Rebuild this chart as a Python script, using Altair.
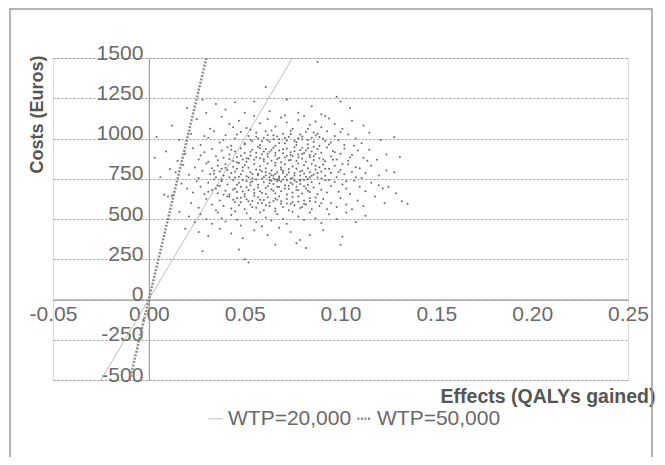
import altair as alt
import pandas as pd

# ---- data (estimated) ----
cloud = [
    # cost 1150+
    (0.088, 1475), (0.061, 1320), (0.028, 1240), (0.035, 1215), (0.045, 1225), (0.055, 1230),
    (0.072, 1240), (0.085, 1200), (0.098, 1260), (0.100, 1230), (0.105, 1190), (0.040, 1180),
    (0.020, 1190), (0.063, 1170), (0.078, 1160), (0.090, 1150), (0.050, 1160), (0.030, 1160),
    # 1050-1150
    (0.012, 1080), (0.025, 1120), (0.032, 1060), (0.038, 1135), (0.042, 1090), (0.047, 1110),
    (0.051, 1065), (0.055, 1140), (0.058, 1095), (0.062, 1120), (0.066, 1075), (0.069, 1130),
    (0.072, 1100), (0.075, 1060), (0.078, 1115), (0.081, 1140), (0.084, 1085), (0.087, 1105),
    (0.090, 1070), (0.094, 1125), (0.097, 1090), (0.101, 1060), (0.106, 1110), (0.112, 1080),
    (0.064, 1050), (0.053, 1055), (0.071, 1145), (0.083, 1060), (0.044, 1070), (0.092, 1140),
    # 950-1050
    (0.004, 1010), (0.016, 990), (0.022, 1030), (0.027, 960), (0.031, 1005), (0.034, 1045),
    (0.037, 975), (0.040, 1020), (0.043, 955), (0.045, 1000), (0.048, 1040), (0.050, 970),
    (0.052, 1015), (0.054, 985), (0.056, 1035), (0.058, 960), (0.060, 1005), (0.061, 1045),
    (0.063, 980), (0.065, 1020), (0.066, 955), (0.068, 995), (0.070, 1030), (0.071, 970),
    (0.073, 1010), (0.074, 1048), (0.076, 985), (0.077, 960), (0.079, 1025), (0.080, 995),
    (0.082, 1040), (0.083, 965), (0.085, 1005), (0.086, 980), (0.088, 1030), (0.089, 955),
    (0.091, 1000), (0.093, 1045), (0.095, 975), (0.097, 1015), (0.099, 990), (0.102, 960),
    (0.104, 1025), (0.108, 1000), (0.111, 970), (0.115, 1035), (0.121, 990), (0.128, 1010),
    (0.057, 1000), (0.062, 990), (0.067, 1012), (0.072, 988), (0.078, 1002), (0.046, 1025),
    (0.039, 990), (0.029, 1015), (0.087, 1018), (0.094, 962), (0.100, 1040), (0.107, 955),
    # 850-950
    (0.003, 880), (0.009, 920), (0.015, 860), (0.019, 905), (0.023, 940), (0.026, 870),
    (0.029, 915), (0.031, 855), (0.033, 935), (0.035, 890), (0.036, 865), (0.038, 925),
    (0.039, 880), (0.041, 945), (0.042, 900), (0.044, 860), (0.045, 920), (0.046, 885),
    (0.048, 940), (0.049, 870), (0.050, 910), (0.051, 855), (0.053, 895), (0.054, 930),
    (0.055, 868), (0.056, 912), (0.057, 948), (0.058, 878), (0.059, 902), (0.060, 858),
    (0.061, 935), (0.062, 888), (0.063, 918), (0.064, 862), (0.065, 942), (0.066, 895),
    (0.067, 872), (0.068, 925), (0.069, 852), (0.070, 908), (0.071, 882), (0.072, 938),
    (0.073, 865), (0.074, 915), (0.075, 890), (0.076, 946), (0.077, 860), (0.078, 900),
    (0.079, 928), (0.080, 875), (0.081, 910), (0.082, 856), (0.083, 940), (0.084, 885),
    (0.085, 920), (0.086, 866), (0.087, 903), (0.088, 935), (0.089, 878), (0.090, 912),
    (0.092, 858), (0.093, 944), (0.095, 890), (0.096, 922), (0.098, 870), (0.100, 905),
    (0.102, 938), (0.104, 862), (0.106, 898), (0.109, 925), (0.112, 880), (0.115, 930),
    (0.119, 868), (0.124, 900), (0.131, 885), (0.027, 895), (0.043, 930), (0.052, 875),
    (0.060, 920), (0.066, 850), (0.074, 898), (0.080, 942), (0.086, 890), (0.091, 870),
    (0.097, 915),
    # 750-850
    (0.006, 760), (0.011, 810), (0.014, 790), (0.018, 835), (0.021, 775), (0.024, 820),
    (0.026, 755), (0.028, 800), (0.030, 845), (0.032, 780), (0.033, 815), (0.035, 760),
    (0.036, 830), (0.037, 795), (0.039, 770), (0.040, 840), (0.041, 805), (0.043, 785),
    (0.044, 825), (0.045, 758), (0.046, 812), (0.047, 848), (0.048, 778), (0.049, 800),
    (0.050, 835), (0.051, 765), (0.052, 818), (0.053, 790), (0.054, 752), (0.055, 842),
    (0.056, 808), (0.057, 772), (0.058, 828), (0.059, 795), (0.060, 760), (0.061, 815),
    (0.062, 845), (0.063, 782), (0.064, 802), (0.065, 768), (0.066, 832), (0.067, 790),
    (0.068, 755), (0.069, 820), (0.070, 798), (0.071, 840), (0.072, 775), (0.073, 810),
    (0.074, 752), (0.075, 826), (0.076, 786), (0.077, 812), (0.078, 845), (0.079, 770),
    (0.080, 800), (0.081, 835), (0.082, 762), (0.083, 815), (0.084, 790), (0.085, 842),
    (0.086, 776), (0.087, 808), (0.088, 758), (0.089, 822), (0.090, 795), (0.091, 838),
    (0.092, 768), (0.094, 812), (0.095, 785), (0.097, 830), (0.098, 760), (0.100, 805),
    (0.102, 778), (0.104, 840), (0.106, 792), (0.108, 760), (0.110, 815), (0.113, 785),
    (0.116, 830), (0.120, 770), (0.124, 802), (0.128, 790), (0.063, 760), (0.065, 752),
    (0.067, 745), (0.061, 770), (0.058, 805), (0.054, 780), (0.049, 822), (0.045, 795),
    (0.071, 762), (0.073, 790), (0.076, 770), (0.069, 808), (0.084, 760), (0.087, 830),
    (0.079, 795), (0.042, 760), (0.038, 812), (0.034, 800),
    # 650-750
    (0.008, 650), (0.012, 645), (0.017, 720), (0.020, 690), (0.023, 665), (0.025, 735),
    (0.027, 700), (0.029, 655), (0.031, 725), (0.033, 680), (0.034, 745), (0.036, 660),
    (0.037, 705), (0.038, 735), (0.040, 675), (0.041, 715), (0.042, 652), (0.044, 740),
    (0.045, 690), (0.046, 668), (0.047, 725), (0.048, 700), (0.050, 655), (0.051, 735),
    (0.052, 680), (0.053, 710), (0.055, 662), (0.056, 745), (0.057, 695), (0.058, 672),
    (0.060, 728), (0.061, 655), (0.062, 705), (0.063, 740), (0.064, 685), (0.065, 718),
    (0.066, 660), (0.067, 735), (0.068, 698), (0.069, 672), (0.070, 745), (0.071, 710),
    (0.072, 652), (0.073, 688), (0.074, 725), (0.075, 665), (0.076, 740), (0.077, 700),
    (0.078, 678), (0.079, 718), (0.080, 658), (0.081, 742), (0.082, 690), (0.083, 712),
    (0.084, 668), (0.085, 730), (0.086, 695), (0.088, 655), (0.089, 720), (0.090, 682),
    (0.092, 740), (0.093, 665), (0.095, 705), (0.097, 730), (0.099, 670), (0.101, 715),
    (0.103, 690), (0.105, 655), (0.107, 738), (0.110, 700), (0.113, 672), (0.116, 725),
    (0.120, 710), (0.122, 690), (0.125, 700), (0.129, 660), (0.042, 640), (0.046, 630),
    (0.050, 640), (0.066, 745), (0.068, 740), (0.064, 738), (0.031, 670), (0.035, 690),
    (0.039, 650),
    # 550-650
    (0.010, 640), (0.022, 600), (0.026, 570), (0.030, 625), (0.033, 590), (0.035, 555),
    (0.037, 615), (0.039, 580), (0.041, 640), (0.043, 565), (0.045, 605), (0.047, 585),
    (0.048, 632), (0.050, 560), (0.052, 610), (0.053, 590), (0.055, 645), (0.056, 570),
    (0.058, 620), (0.059, 598), (0.060, 555), (0.062, 635), (0.063, 580), (0.065, 612),
    (0.066, 565), (0.068, 640), (0.069, 595), (0.070, 575), (0.072, 625), (0.073, 555),
    (0.075, 605), (0.076, 585), (0.078, 640), (0.079, 568), (0.081, 615), (0.082, 590),
    (0.084, 630), (0.085, 560), (0.087, 605), (0.089, 580), (0.091, 625), (0.093, 560),
    (0.095, 600), (0.098, 575), (0.100, 630), (0.103, 590), (0.106, 560), (0.109, 615),
    (0.112, 580), (0.118, 640), (0.123, 600), (0.132, 610), (0.135, 595), (0.057, 600),
    (0.061, 585), (0.067, 620), (0.074, 595), (0.080, 575), (0.044, 620), (0.054, 575),
    # 450-550
    (0.016, 545), (0.021, 515), (0.024, 480), (0.027, 530), (0.030, 500), (0.033, 470),
    (0.036, 540), (0.038, 505), (0.040, 485), (0.043, 525), (0.046, 495), (0.048, 460),
    (0.051, 535), (0.053, 505), (0.056, 480), (0.058, 540), (0.061, 510), (0.064, 490),
    (0.067, 530), (0.070, 500), (0.072, 470), (0.075, 545), (0.078, 515), (0.081, 495),
    (0.084, 540), (0.087, 505), (0.090, 475), (0.094, 530), (0.098, 500), (0.103, 540),
    (0.108, 480), (0.113, 520), (0.059, 455), (0.045, 548), (0.066, 548),
    # 350-450
    (0.019, 440), (0.026, 420), (0.031, 395), (0.037, 440), (0.043, 410), (0.049, 380),
    (0.055, 430), (0.062, 400), (0.068, 445), (0.074, 420), (0.079, 370), (0.084, 400),
    (0.091, 430), (0.101, 390),
    # below 350
    (0.028, 300), (0.047, 310), (0.050, 250), (0.052, 230), (0.066, 340), (0.077, 350),
    (0.082, 320), (0.100, 340),
    # dense core, second pass
    (0.047, 763), (0.049, 742), (0.052, 758), (0.054, 733), (0.057, 781), (0.059, 748),
    (0.061, 792), (0.064, 771), (0.066, 779), (0.068, 764), (0.070, 785), (0.072, 741),
    (0.075, 755), (0.077, 731), (0.079, 744), (0.081, 783), (0.083, 749), (0.085, 768),
    (0.088, 786), (0.090, 752),
    (0.046, 852), (0.048, 893), (0.051, 877), (0.053, 918), (0.056, 884), (0.058, 939),
    (0.060, 871), (0.062, 906), (0.064, 929), (0.066, 912), (0.068, 881), (0.070, 934),
    (0.072, 893), (0.074, 867), (0.076, 921), (0.078, 883), (0.080, 904), (0.082, 926),
    (0.084, 898), (0.086, 948),
    (0.044, 683), (0.046, 712), (0.049, 671), (0.051, 697), (0.053, 726), (0.055, 684),
    (0.057, 713), (0.059, 663), (0.061, 693), (0.063, 722), (0.065, 676), (0.067, 701),
    (0.069, 733), (0.071, 689), (0.073, 707), (0.075, 716), (0.077, 682), (0.079, 738),
    (0.081, 704), (0.083, 676),
    (0.050, 963), (0.053, 992), (0.056, 1011), (0.059, 983), (0.062, 1022), (0.065, 995),
    (0.068, 972), (0.071, 1003), (0.074, 1028), (0.077, 976), (0.080, 1013), (0.083, 991),
    (0.086, 1037), (0.089, 1009), (0.092, 985),
    (0.048, 604), (0.051, 623), (0.054, 612), (0.057, 635), (0.060, 618), (0.063, 603),
    (0.066, 628), (0.069, 611), (0.072, 596), (0.075, 637), (0.078, 607), (0.081, 593),
    (0.084, 612), (0.087, 633), (0.090, 598),
    (0.038, 745), (0.040, 818), (0.042, 873), (0.036, 708), (0.034, 781), (0.092, 812),
    (0.094, 743), (0.096, 868), (0.099, 792), (0.101, 842), (0.103, 735), (0.105, 883),
    (0.108, 822), (0.111, 754), (0.114, 862),
]
effects = [p[0] for p in cloud]
costs = [p[1] for p in cloud]

wtp_series = ["WTP=20,000", "WTP=20,000", "WTP=50,000", "WTP=50,000"]
wtp_effect = [-0.025, 0.075, -0.01, 0.03]
wtp_cost = [-500, 1500, -500, 1500]

x_ticks = [-0.05, 0.0, 0.05, 0.10, 0.15, 0.20, 0.25]
y_ticks = [-500, -250, 0, 250, 500, 750, 1000, 1250, 1500]

W, H = 575, 322
X_MIN, X_MAX = -0.05, 0.25
Y_MIN, Y_MAX = -500, 1500
x_off = -W * (0 - X_MIN) / (X_MAX - X_MIN)
y_off = -H * (0 - Y_MIN) / (Y_MAX - Y_MIN)

LABEL_FONT = "Liberation Sans"
TITLE_FONT = "Liberation Sans"
minus_fix = "replace(datum.label, '\u2212', '-')"

xs = alt.Scale(domain=[X_MIN, X_MAX], nice=False, zero=False)
ys = alt.Scale(domain=[Y_MIN, Y_MAX], nice=False, zero=False)

x_axis = alt.Axis(
    values=x_ticks, format=".2f", offset=y_off, grid=False, ticks=False,
    domainColor="#8a8a8a", domainWidth=1,
    labelFont=LABEL_FONT, labelFontSize=21, labelColor="#6a6a6a", labelPadding=4,
    labelFlush=False, labelOverlap=False, labelExpr=minus_fix,
    title="Effects (QALYs gained)", titleFont=TITLE_FONT, titleFontSize=19.5,
    titleFontWeight="bold", titleColor="#555555", titleX=602, titleY=103,
    titleAlign="right", titleBaseline="alphabetic",
)
y_axis = alt.Axis(
    values=y_ticks, format="d", offset=x_off, grid=True, gridDash=[2, 2],
    gridColor="#9a9a9a", gridWidth=1, ticks=False,
    domainColor="#8a8a8a", domainWidth=1,
    labelFont=LABEL_FONT, labelFontSize=21, labelColor="#6a6a6a", labelPadding=6,
    labelOverlap=False, labelExpr=minus_fix, labelBaseline="alphabetic", labelOffset=1,
    title="Costs (Euros)", titleFont=TITLE_FONT, titleFontSize=18,
    titleFontWeight="bold", titleColor="#555555", titleAngle=-90,
    titleX=-111, titleY=56, titleAlign="center", titleBaseline="middle",
)

df_pts = pd.DataFrame({"effect": effects, "cost": costs})
df_wtp = pd.DataFrame({"series": wtp_series, "effect": wtp_effect, "cost": wtp_cost})

points = alt.Chart(df_pts).mark_circle(size=4, color="#6a6a6a", opacity=1).encode(
    x=alt.X("effect:Q", scale=xs, axis=x_axis),
    y=alt.Y("cost:Q", scale=ys, axis=y_axis),
)

series_domain = ["WTP=20,000", "WTP=50,000"]
lines = alt.Chart(df_wtp).mark_line().encode(
    x=alt.X("effect:Q", scale=xs, axis=x_axis),
    y=alt.Y("cost:Q", scale=ys, axis=y_axis),
    detail="series:N",
    color=alt.Color(
        "series:N",
        scale=alt.Scale(domain=series_domain, range=["#b4b4b4", "#8c8c8c"]),
        legend=alt.Legend(
            title=None, orient="none", legendX=152, legendY=350, direction="horizontal",
            symbolType="stroke", symbolSize=200, labelFont=LABEL_FONT, labelFontSize=21,
            labelColor="#6a6a6a", columnPadding=0, labelOffset=2,
        ),
    ),
    strokeDash=alt.StrokeDash(
        "series:N",
        scale=alt.Scale(domain=series_domain, range=[[1, 0], [2, 1.5]]),
        legend=alt.Legend(title=None),
    ),
    strokeWidth=alt.StrokeWidth(
        "series:N",
        scale=alt.Scale(domain=series_domain, range=[1, 2.5]),
        legend=alt.Legend(title=None),
    ),
)

border = alt.Chart(pd.DataFrame({"k": [0]})).mark_rect(
    fillOpacity=0, stroke="#9a9a9a", strokeWidth=1.5
).encode(
    x=alt.value(-43), x2=alt.value(599), y=alt.value(-49), y2=alt.value(430)
)

chart = alt.layer(border, lines, points).properties(
    width=W, height=H,
    autosize=alt.AutoSizeParams(type="none"),
    padding={"left": 45, "top": 50, "right": 29, "bottom": 77},
).configure_view(stroke=None).configure(background="white")

chart.save("out.html", embed_options={"renderer": "svg", "actions": False})
